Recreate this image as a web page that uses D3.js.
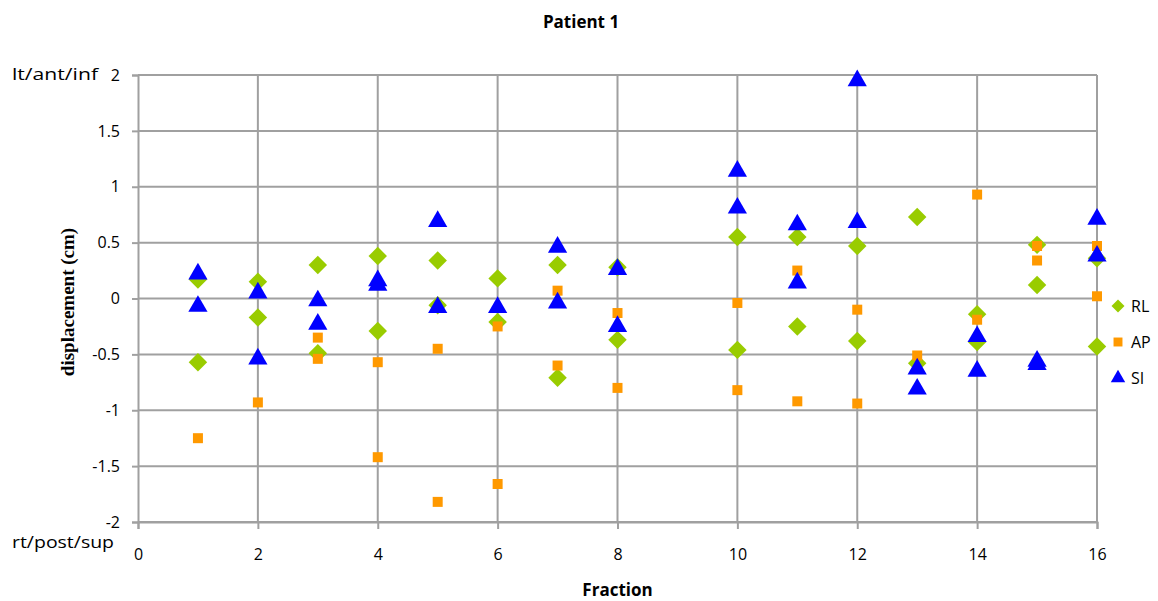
<!DOCTYPE html>
<html>
<head>
<meta charset="utf-8">
<script src="https://cdn.jsdelivr.net/npm/d3@7"></script>
<style>
  body { margin: 0; background: #fff; }
  text { font-family: "Open Sans", "Noto Sans", sans-serif; fill: #000; }
</style>
</head>
<body>
<svg id="chart" width="1158" height="601"></svg>
<script>
const rlX = [1,1, 2,2, 3,3, 4,4, 5,5, 6,6, 7,7, 8,8, 10,10, 11,11, 12,12, 13,13, 14,14, 15,15, 16,16];
const rlY = [0.17,-0.57, 0.15,-0.17, 0.30,-0.49, 0.38,-0.29, 0.34,-0.06, 0.18,-0.21, 0.30,-0.71, 0.28,-0.37,
             0.55,-0.46, 0.55,-0.25, 0.47,-0.38, 0.73,-0.58, -0.14,-0.39, 0.48,0.12, 0.36,-0.43];

const apX = [1, 2, 3,3, 4,4, 5,5, 6,6, 7,7, 8,8, 10,10, 11,11, 12,12, 13, 14,14, 15,15, 16,16];
const apY = [-1.25, -0.93, -0.35,-0.54, -0.57,-1.42, -0.45,-1.82, -0.25,-1.66, 0.07,-0.60, -0.13,-0.80,
             -0.04,-0.82, 0.25,-0.92, -0.10,-0.94, -0.51, 0.93,-0.19, 0.47,0.34, 0.47,0.02];

const siX = [1,1, 2,2, 3,3, 4,4, 5,5, 6, 7,7, 8,8, 10,10, 11,11, 12,12, 13,13, 14,14, 15,15, 16,16];
const siY = [0.22,-0.07, 0.05,-0.54, -0.02,-0.23, 0.16,0.12, 0.69,-0.08, -0.08, 0.46,-0.04, 0.26,-0.25,
             1.14,0.81, 0.66,0.14, 1.95,0.68, -0.63,-0.81, -0.34,-0.65, -0.56,-0.59, 0.71,0.38];

const seriesNames = ["RL", "AP", "SI"];
const seriesColors = ["#99cc00", "#ff9900", "#0000ff"];
const xTicks = [0, 2, 4, 6, 8, 10, 12, 14, 16];
const yTicks = [-2, -1.5, -1, -0.5, 0, 0.5, 1, 1.5, 2];

const svg = d3.select("#chart");
const plotLeft = 138, plotRight = 1097, plotTop = 75, plotBottom = 522;

const x = d3.scaleLinear().domain([0, 16]).range([plotLeft, plotRight]);
const y = d3.scaleLinear().domain([-2, 2]).range([plotBottom, plotTop]);

const gridColor = "#a0a0a0";

// gridlines
svg.append("g").selectAll("line").data(yTicks).join("line")
  .attr("x1", plotLeft).attr("x2", plotRight)
  .attr("y1", d => y(d)).attr("y2", d => y(d))
  .attr("stroke", gridColor).attr("stroke-width", 2);
svg.append("g").selectAll("line").data(xTicks.filter(d => d > 0)).join("line")
  .attr("x1", d => x(d)).attr("x2", d => x(d))
  .attr("y1", plotTop).attr("y2", plotBottom)
  .attr("stroke", gridColor).attr("stroke-width", 2);

// axes
const yAxis = svg.append("g")
  .attr("transform", `translate(${plotLeft},0)`)
  .call(d3.axisLeft(y).tickValues(yTicks).tickSize(6).tickPadding(12).tickFormat(d => String(d)));
const xAxis = svg.append("g")
  .attr("transform", `translate(0,${y(-2)})`)
  .call(d3.axisBottom(x).tickValues(xTicks).tickSize(7).tickPadding(20).tickFormat(d => String(d)));

[yAxis, xAxis].forEach(g => {
  g.select(".domain").attr("stroke", gridColor).attr("stroke-width", 2);
  g.selectAll(".tick line").attr("stroke", gridColor).attr("stroke-width", 2);
  g.selectAll(".tick text").style("font-size", "16px").attr("fill", "#000");
});

// symbols
const diamond = d3.symbol().type(d3.symbolSquare).size(170);
const square = d3.symbol().type(d3.symbolSquare).size(100);
const triangle = d3.symbol().type(d3.symbolTriangle).size(160);

const rl = rlX.map((d, i) => ({ f: d, v: rlY[i] }));
const ap = apX.map((d, i) => ({ f: d, v: apY[i] }));
const si = siX.map((d, i) => ({ f: d, v: siY[i] }));

svg.append("g").selectAll("path").data(rl).join("path")
  .attr("d", diamond)
  .attr("transform", d => `translate(${x(d.f)},${y(d.v)}) rotate(45)`)
  .attr("fill", seriesColors[0]);

svg.append("g").selectAll("path").data(ap).join("path")
  .attr("d", square)
  .attr("transform", d => `translate(${x(d.f)},${y(d.v)})`)
  .attr("fill", seriesColors[1]);

svg.append("g").selectAll("path").data(si).join("path")
  .attr("d", triangle)
  .attr("transform", d => `translate(${x(d.f)},${y(d.v)})`)
  .attr("fill", seriesColors[2]);

// legend
const legendShapes = [
  d3.symbol().type(d3.symbolSquare).size(85),
  d3.symbol().type(d3.symbolSquare).size(80),
  d3.symbol().type(d3.symbolTriangle).size(90)
];
const legend = svg.append("g").selectAll("g").data(seriesNames).join("g")
  .attr("transform", (d, i) => `translate(1118,${306 + i * 36})`);
legend.append("path")
  .attr("d", (d, i) => legendShapes[i]())
  .attr("transform", (d, i) => i === 0 ? "rotate(45)" : null)
  .attr("fill", (d, i) => seriesColors[i]);
legend.append("text")
  .attr("x", 13).attr("dy", "0.35em")
  .style("font-size", "16px")
  .text(d => d);

// titles
svg.append("text")
  .attr("x", 581).attr("y", 28)
  .attr("text-anchor", "middle")
  .style("font-size", "17px").style("font-weight", "bold")
  .text("Patient 1");

svg.append("text")
  .attr("x", x(8)).attr("y", 596)
  .attr("text-anchor", "middle")
  .style("font-size", "17px").style("font-weight", "bold")
  .text("Fraction");

svg.append("text")
  .attr("transform", "translate(74,302) rotate(-90)")
  .attr("text-anchor", "middle")
  .style("font-family", "'Liberation Serif', serif")
  .style("font-size", "19px").style("font-weight", "bold")
  .text("displacement (cm)");

svg.append("text")
  .attr("x", 12).attr("y", 80)
  .style("font-size", "17px")
  .attr("textLength", 86).attr("lengthAdjust", "spacingAndGlyphs")
  .text("lt/ant/inf");

svg.append("text")
  .attr("x", 12).attr("y", 548)
  .style("font-size", "17px")
  .attr("textLength", 102).attr("lengthAdjust", "spacingAndGlyphs")
  .text("rt/post/sup");
</script>
</body>
</html>
